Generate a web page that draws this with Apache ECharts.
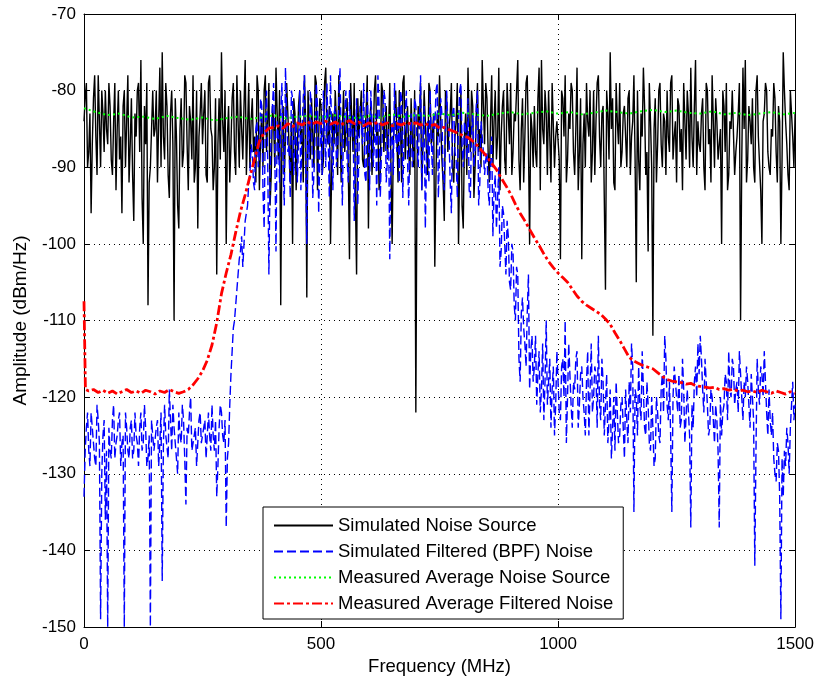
<!DOCTYPE html>
<html><head><meta charset="utf-8">
<script src="https://cdn.jsdelivr.net/npm/echarts@6/dist/echarts.min.js"></script>
<style>html,body{margin:0;padding:0;background:#fff}#c{width:817px;height:683px}</style>
</head><body><div id="c"></div>
<script>
const xTickStep = 500;
const yTickStep = 10;
const seriesNames = ['Simulated Noise Source','Simulated Filtered (BPF) Noise','Measured Average Noise Source','Measured Average Filtered Noise'];

// simulated spectra: values at 0,5,10,... MHz and at 2.5,7.5,12.5,... MHz
const simStep = 5;
const noiseSource = [
-84,-79,-88,-96,-81,-86,-78,-90,-83,-80,
-87,-82,-91,-79,-85,-89,-96,-80,-84,-92,
-81,-97,-86,-79,-76,-100,-87,-108,-90,-80,
-85,-92,-77,-75,-89,-82,-94,-80,-110,-86,
-98,-81,-88,-79,-93,-84,-78,-90,-98,-83,
-87,-80,-92,-78,-86,-90,-104,-81,-75,-88,
-100,-82,-87,-79,-91,-84,-80,-89,-76,-85,
-90,-81,-86,-78,-93,-83,-80,-88,-79,-91,
-84,-77,-89,-108,-82,-86,-79,-92,-100,-83,
-88,-80,-85,-78,-107,-84,-81,-90,-79,-86,
-82,-89,-77,-87,-100,-83,-80,-91,-78,-85,
-88,-81,-102,-84,-79,-104,-86,-80,-90,-83,
-98,-82,-87,-78,-85,-91,-80,-84,-89,-79,
-100,-83,-86,-80,-92,-78,-85,-88,-81,-90,
-122,-82,-79,-87,-84,-91,-80,-86,-103,-83,
-78,-89,-97,-81,-85,-79,-92,-84,-100,-80,
-98,-83,-77,-88,-82,-90,-79,-85,-76,-87,
-81,-92,-78,-84,-89,-77,-86,-80,-91,-83,
-79,-88,-84,-76,-93,-81,-86,-78,-100,-85,
-82,-90,-77,-76,-87,-83,-80,-92,-79,-86,
-84,-102,-81,-78,-89,-85,-80,-91,-77,-88,
-102,-83,-79,-86,-92,-80,-84,-78,-90,-82,
-106,-83,-75,-81,-93,-84,-79,-88,-82,-90,
-80,-86,-78,-105,-89,-83,-77,-91,-101,-84,
-112,-81,-87,-79,-90,-84,-80,-88,-78,-86,
-92,-82,-85,-79,-89,-83,-77,-90,-76,-84,
-88,-81,-93,-80,-85,-78,-90,-84,-87,-100,
-82,-79,-91,-85,-80,-88,-83,-110,-77,-76,
-89,-84,-81,-92,-78,-86,-100,-83,-80,-90,
-85,-79,-88,-82,-100,-75,-84,-91,-80,-86,-83
];
const noiseSourceMid = [
-81,-90,-83,-87,-78,-91,-84,-80,-88,-85,
-79,-89,-84,-93,-80,-86,-82,-90,-78,-87,
-91,-83,-80,-88,-94,-82,-79,-92,-85,-86,
-80,-84,-90,-86,-79,-91,-83,-87,-81,-95,
-85,-90,-78,-87,-82,-89,-92,-80,-86,-79,
-83,-91,-79,-85,-93,-81,-87,-89,-84,-80,
-86,-92,-81,-88,-78,-90,-85,-82,-91,-79,
-84,-88,-92,-80,-86,-90,-78,-84,-95,-82,
-90,-83,-80,-86,-91,-79,-87,-84,-81,-93,
-82,-87,-92,-84,-80,-89,-86,-78,-93,-81,
-91,-79,-86,-82,-90,-87,-84,-78,-92,-80,
-85,-90,-79,-88,-94,-81,-83,-89,-86,-78,
-84,-91,-80,-86,-93,-79,-88,-82,-85,-90,
-87,-80,-92,-84,-79,-89,-82,-91,-86,-80,
-90,-85,-93,-80,-88,-79,-87,-83,-91,-86,
-84,-92,-80,-88,-83,-90,-86,-79,-89,-95,
-86,-91,-84,-80,-94,-83,-88,-90,-82,-79,
-88,-84,-90,-80,-86,-93,-82,-89,-79,-87,
-91,-83,-80,-89,-85,-92,-79,-87,-83,-90,
-88,-81,-93,-85,-80,-91,-86,-79,-90,-84,
-89,-80,-86,-92,-83,-79,-88,-85,-93,-81,
-87,-90,-84,-80,-88,-91,-79,-86,-83,-94,
-80,-89,-85,-92,-79,-87,-90,-83,-86,-81,
-91,-84,-89,-80,-93,-86,-82,-88,-79,-90,
-85,-92,-80,-87,-83,-91,-86,-79,-89,-84,
-81,-88,-93,-84,-80,-90,-86,-82,-91,-87,
-83,-90,-79,-87,-92,-84,-81,-89,-85,-80,
-88,-93,-84,-80,-91,-86,-79,-89,-85,-92,
-82,-87,-90,-80,-86,-93,-84,-79,-88,-91,
-86,-81,-92,-84,-89,-80,-87,-93,-83,-90
];
const filteredNoise = [
-133,-124,-127,-122,-126,-129,-123,-149,-125,-136,
-150,-127,-123,-128,-125,-122,-126,-150,-124,-128,
-123,-127,-125,-129,-122,-126,-124,-128,-150,-125,
-127,-123,-126,-144,-121,-125,-119,-127,-124,-128,
-122,-126,-123,-134,-125,-120,-127,-124,-129,-122,
-126,-123,-128,-125,-121,-127,-133,-124,-122,-126,
-137,-126,-117,-111,-108,-104,-101,-103,-97,-95,
-91,-88,-93,-84,-89,-82,-98,-80,-104,-85,
-79,-101,-86,-83,-90,-77,-88,-94,-81,-86,
-92,-80,-85,-78,-100,-89,-83,-91,-79,-96,
-84,-80,-90,-86,-78,-93,-82,-88,-77,-95,
-83,-89,-80,-86,-97,-81,-88,-84,-79,-92,
-86,-80,-90,-83,-78,-94,-85,-81,-89,-102,
-84,-79,-88,-92,-81,-86,-80,-95,-83,-89,
-82,-90,-78,-87,-98,-84,-80,-91,-85,-79,
-88,-83,-93,-80,-86,-96,-82,-89,-84,-79,
-90,-85,-81,-94,-83,-88,-80,-92,-86,-91,
-88,-95,-86,-93,-98,-90,-101,-96,-104,-99,
-106,-101,-110,-104,-118,-107,-113,-109,-119,-112,
-116,-121,-114,-119,-123,-110,-118,-124,-116,-121,
-118,-123,-115,-110,-120,-117,-124,-119,-114,-121,
-116,-122,-118,-125,-113,-120,-117,-112,-123,-118,
-121,-126,-119,-124,-127,-122,-125,-120,-128,-123,
-118,-113,-135,-120,-116,-123,-119,-125,-121,-127,
-124,-128,-122,-126,-117,-112,-121,-118,-135,-116,
-120,-117,-123,-119,-126,-122,-137,-124,-116,-113,
-112,-119,-115,-121,-124,-120,-126,-123,-137,-125,
-121,-118,-114,-120,-116,-119,-122,-117,-123,-120,
-118,-124,-120,-142,-115,-121,-117,-114,-122,-119,
-125,-128,-131,-127,-149,-133,-129,-126,-124,-118,-121
];
const filteredNoiseMid = [
-127,-122,-129,-124,-128,-121,-126,-130,-123,-127,
-124,-128,-121,-126,-123,-129,-125,-122,-127,-124,
-128,-122,-126,-124,-127,-121,-129,-125,-123,-127,
-124,-129,-122,-126,-125,-128,-123,-121,-126,-130,
-125,-121,-128,-124,-122,-127,-125,-129,-123,-126,
-124,-128,-122,-127,-125,-123,-129,-121,-125,-123,
-128,-121,-114,-110,-106,-102,-99,-100,-96,-92,
-87,-92,-85,-90,-81,-93,-84,-89,-91,-82,
-88,-84,-92,-79,-95,-83,-87,-80,-91,-84,
-87,-93,-81,-89,-84,-80,-94,-86,-82,-88,
-91,-85,-79,-94,-86,-83,-90,-81,-87,-84,
-80,-92,-86,-83,-89,-95,-82,-87,-91,-80,
-93,-84,-87,-95,-82,-88,-80,-92,-85,-87,
-91,-86,-82,-80,-94,-83,-89,-86,-90,-81,
-87,-84,-93,-82,-89,-92,-86,-83,-80,-94,
-81,-91,-86,-84,-92,-83,-88,-94,-80,-87,
-84,-89,-93,-85,-90,-82,-95,-84,-88,-89,
-93,-89,-99,-91,-94,-103,-95,-100,-97,-105,
-100,-108,-103,-115,-109,-111,-116,-104,-114,-118,
-112,-117,-122,-113,-118,-121,-115,-119,-125,-114,
-122,-116,-120,-126,-113,-121,-118,-115,-124,-117,
-120,-125,-114,-119,-122,-116,-124,-121,-115,-125,
-117,-123,-128,-120,-118,-126,-121,-124,-119,-126,
-122,-116,-119,-125,-121,-114,-124,-118,-126,-120,
-129,-120,-125,-119,-122,-115,-123,-125,-120,-118,
-122,-124,-115,-126,-119,-125,-121,-118,-120,-117,
-115,-122,-118,-125,-119,-123,-121,-127,-120,-122,
-117,-123,-119,-115,-121,-118,-114,-120,-118,-116,
-121,-117,-123,-127,-119,-116,-120,-118,-125,-123,
-122,-130,-126,-133,-128,-127,-124,-130,-121,-123
];

// measured average of the source, every 25 MHz
const avgSourceStep = 25;
const avgSource = [
-82.3,-82.8,-83.2,-83.0,-83.5,-83.4,-83.7,-83.3,-83.6,-83.8,
-83.5,-83.9,-83.6,-83.4,-83.7,-83.5,-83.2,-83.6,-83.4,-83.3,
-83.5,-83.2,-83.4,-83.6,-83.3,-83.5,-83.1,-83.4,-83.2,-83.3,
-83.0,-83.2,-82.9,-83.1,-83.3,-83.0,-82.8,-83.1,-82.9,-82.7,
-83.0,-82.8,-83.1,-82.9,-82.6,-82.8,-83.0,-82.7,-82.5,-82.8,
-82.6,-82.9,-83.0,-82.7,-83.1,-82.9,-83.2,-83.0,-82.8,-83.1,
-82.9
];

// measured average of the filtered noise: 0 MHz, 3 MHz, then every 10 MHz
const avgFilteredStart = [-107.5, -119.0];
const avgFilteredStep = 10;
const avgFiltered = [
-119.2,-119.0,-119.4,-119.1,-119.5,-119.2,-119.6,-119.3,-119.0,-119.4,
-119.2,-119.5,-119.1,-119.3,-119.6,-119.2,-119.4,-119.0,-119.3,-119.5,
-119.3,-119.0,-118.4,-117.6,-116.6,-115.2,-113.2,-110.3,-106.5,-103.8,
-101.4,-98.5,-95.8,-93.6,-91.2,-88.9,-86.6,-85.5,-84.9,-84.8,
-84.6,-84.9,-84.3,-84.7,-84.2,-84.5,-84.0,-84.4,-84.1,-84.3,
-84.0,-84.4,-84.1,-84.5,-84.2,-83.9,-84.3,-84.1,-84.6,-84.2,
-84.4,-84.1,-84.5,-84.2,-84.6,-84.3,-84.5,-84.1,-84.4,-84.2,
-84.5,-84.3,-84.6,-84.4,-84.9,-84.8,-85.1,-85.3,-85.6,-85.9,
-86.1,-86.6,-87.2,-87.9,-88.6,-89.5,-90.3,-91.4,-92.4,-93.5,
-94.8,-96.0,-97.0,-98.1,-99.2,-100.2,-101.3,-102.3,-103.1,-103.8,
-104.4,-105.0,-105.9,-106.8,-107.5,-108.0,-108.4,-108.8,-109.2,-109.8,
-110.5,-111.6,-112.6,-113.7,-114.8,-115.3,-115.6,-115.9,-116.1,-116.3,
-116.8,-117.3,-117.7,-117.9,-118.0,-118.1,-118.3,-118.2,-118.5,-118.6,
-118.7,-118.8,-118.7,-119.0,-118.9,-119.1,-119.0,-119.2,-119.1,-119.3,
-119.2,-119.4,-119.1,-119.3,-119.5,-119.2,-119.4,-119.6,-119.3,-119.5
];

const pairs = (arr, step, x0) => arr.map((v, i) => [x0 + i * step, v]);
const interleave = (main, mid, step) => {
  const out = [];
  main.forEach((v, i) => {
    out.push([i * step, v]);
    if (i < mid.length) out.push([i * step + step / 2, mid[i]]);
  });
  return out;
};
const redData = [[0, avgFilteredStart[0]], [3, avgFilteredStart[1]]].concat(pairs(avgFiltered, avgFilteredStep, avgFilteredStep));

const FONT = 'Liberation Sans';
const chart = echarts.init(document.getElementById('c'), null, {renderer: 'canvas'});
const baseAxis = {
  axisLine: {show: true, onZero: false, lineStyle: {color: '#000', width: 1}},
  axisTick: {show: true, inside: true, length: 6, lineStyle: {color: '#000'}},
};
chart.setOption({
  animation: false,
  backgroundColor: '#fff',
  grid: {left: 84, top: 14, right: 20, bottom: 56, show: false},
  xAxis: [
    Object.assign({type: 'value', min: 0, max: 1500, interval: xTickStep, position: 'bottom',
      axisLabel: {color: '#000', fontSize: 17, fontFamily: FONT, margin: 9, formatter: v => String(v)},
      splitLine: {show: true, lineStyle: {color: '#000', type: [1, 4], width: 1}},
      name: 'Frequency (MHz)', nameLocation: 'middle', nameGap: 29,
      nameTextStyle: {color: '#000', fontSize: 18.5, fontFamily: FONT}}, baseAxis),
    Object.assign({type: 'value', min: 0, max: 1500, interval: xTickStep, position: 'top',
      axisLabel: {show: false}, splitLine: {show: false}}, baseAxis)
  ],
  yAxis: [
    Object.assign({type: 'value', min: -150, max: -70, interval: yTickStep, position: 'left',
      axisLabel: {color: '#000', fontSize: 17, fontFamily: FONT, margin: 8, formatter: v => String(v)},
      splitLine: {show: true, lineStyle: {color: '#000', type: [1, 4], width: 1}},
      name: 'Amplitude (dBm/Hz)', nameLocation: 'middle', nameGap: 54,
      nameTextStyle: {color: '#000', fontSize: 19, fontFamily: FONT}}, baseAxis),
    Object.assign({type: 'value', min: -150, max: -70, interval: yTickStep, position: 'right',
      axisLabel: {show: false}, splitLine: {show: false}}, baseAxis)
  ],
  legend: {
    orient: 'vertical', left: 263, top: 507,
    backgroundColor: '#fff', borderColor: '#000', borderWidth: 1,
    padding: [9, 10, 6, 10], itemGap: 7, itemWidth: 59, itemHeight: 14,
    itemStyle: {opacity: 0},
    textStyle: {color: '#000', fontSize: 18.5, fontFamily: FONT},
    data: seriesNames
  },
  series: [
    {name: seriesNames[0], type: 'line', data: interleave(noiseSource, noiseSourceMid, simStep), symbol: 'none', showSymbol: false,
      lineStyle: {color: '#000', width: 1.4}, itemStyle: {color: '#000'}, z: 1},
    {name: seriesNames[1], type: 'line', data: interleave(filteredNoise, filteredNoiseMid, simStep), symbol: 'none', showSymbol: false,
      lineStyle: {color: '#0000ff', width: 1.4, type: [9, 4]}, itemStyle: {color: '#0000ff'}, z: 2},
    {name: seriesNames[2], type: 'line', data: pairs(avgSource, avgSourceStep, 0), symbol: 'none', showSymbol: false,
      lineStyle: {color: '#00ff00', width: 2, type: [2, 3]}, itemStyle: {color: '#00ff00'}, z: 3},
    {name: seriesNames[3], type: 'line', data: redData, symbol: 'none', showSymbol: false,
      lineStyle: {color: '#ff0000', width: 2.8, type: [10, 3, 3, 3]}, itemStyle: {color: '#ff0000'}, z: 4}
  ]
});
</script>
</body></html>
